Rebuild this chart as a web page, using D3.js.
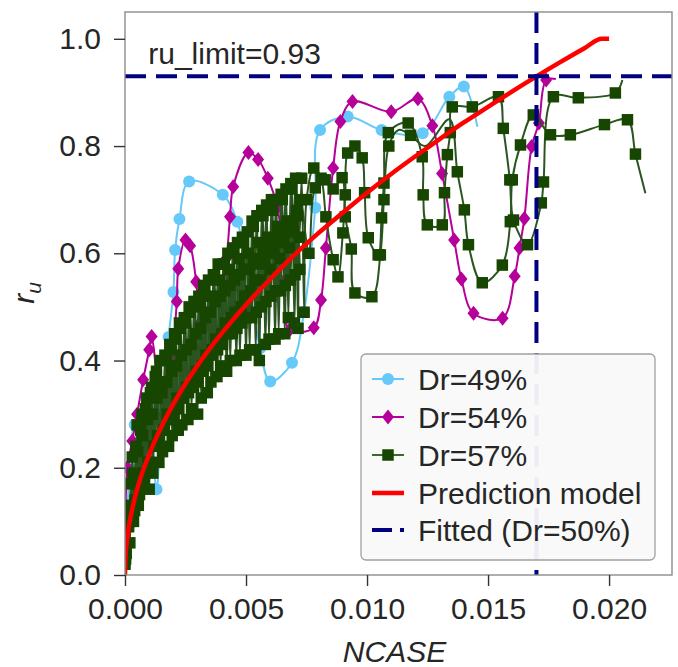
<!DOCTYPE html>
<html>
<head>
<meta charset="utf-8">
<script src="https://cdn.jsdelivr.net/npm/d3@7"></script>
<style>
  body { margin: 0; background: #fff; }
  text { font-family: "Liberation Sans", Arial, sans-serif; fill: #262626; }
</style>
</head>
<body>
<svg id="chart"></svg>
<script>
const WIDTH = 678;
const HEIGHT = 667;
const LEFT = 125, RIGHT = 672, TOP = 12, BOTTOM = 575;
const FONT = 30;

// ticks
const xTicks = [0, 0.005, 0.010, 0.015, 0.020];
const yTicks = [0, 0.2, 0.4, 0.6, 0.8, 1.0];

// limits
const ruLimit = 0.93;
const ncaseFitted = 0.017;

// Dr=49% (NCASE, ru); third field 0 = no marker
const dr49 = [[0,0.02],[0.0002,0.2],[0.0004,0.28],[0.0007,0.25],[0.001,0.3],[0.0013,0.16],[0.0015,0.3],
  [0.0018,0.444],[0.002,0.528],[0.00207,0.606],[0.00225,0.664],[0.00265,0.734],[0.00404,0.709],[0.00464,0.659],
  [0.0052,0.52],[0.00558,0.423],[0.006,0.361],[0.0069,0.396],[0.0074,0.491],[0.00786,0.685],[0.00806,0.83],
  [0.0092,0.855],[0.0106,0.83],[0.0123,0.824],[0.0134,0.892],[0.014,0.911],[0.01456,0.836,0]];

// Dr=54%
const dr54 = [[0,0.02],[0.0001,0.2],[0.0003,0.25],[0.0005,0.3],[0.00075,0.364],[0.001,0.42],[0.0011,0.445],
  [0.0013,0.38],[0.0016,0.3],[0.0019,0.38],[0.00214,0.51],[0.0022,0.571],[0.0025,0.625],[0.00269,0.614],
  [0.00294,0.547],[0.0031,0.47],[0.0034,0.40],[0.0038,0.45],[0.0042,0.591],[0.00434,0.668],[0.00447,0.724],
  [0.0051,0.788],[0.0055,0.775],[0.0059,0.74],[0.0063,0.685],[0.0066,0.55],[0.0068,0.457],[0.0078,0.461],
  [0.0081,0.513],[0.0083,0.61],[0.0086,0.759],[0.0089,0.846],[0.0094,0.883],[0.011,0.864],[0.0121,0.888],
  [0.0127,0.838],[0.0131,0.749],[0.0136,0.625],[0.0139,0.552],[0.0144,0.488],[0.0156,0.479],[0.0161,0.557],
  [0.0163,0.61],[0.0165,0.665],[0.0168,0.799],[0.0171,0.843],[0.0174,0.923],[0.0178,0.925,0]];

// Dr=57%, three interleaved traces
const dr57a = [[0,0.02],[0.0001,0.13],[0.0002,0.06],[0.0003,0.22],[0.0004,0.12],[0.0005,0.28],[0.0006,0.15],[0.0007,0.30],[0.0008,0.18],[0.0009,0.33],
  [0.0010,0.16],[0.0011,0.35],[0.0012,0.24],[0.0013,0.38],[0.0014,0.21],[0.0015,0.36],[0.0016,0.27],[0.0017,0.40],[0.0018,0.24],[0.0019,0.42],
  [0.0020,0.29],[0.0021,0.44],[0.0022,0.27],[0.0023,0.46],[0.0024,0.33],[0.0025,0.47],[0.0026,0.29],[0.0027,0.49],[0.0028,0.36],[0.0029,0.51],
  [0.0030,0.30],[0.0031,0.50],[0.0032,0.39],[0.0033,0.53],[0.0034,0.34],[0.0035,0.52],[0.0036,0.42],[0.0037,0.56],[0.0038,0.37],[0.0039,0.55],
  [0.0040,0.45],[0.0041,0.58],[0.0042,0.38],[0.0043,0.57],[0.0044,0.48],[0.0045,0.60],[0.0046,0.40],[0.0047,0.59],[0.0048,0.50],[0.0049,0.62],
  [0.0050,0.41],[0.0051,0.60],[0.0052,0.53],[0.0053,0.65],[0.0054,0.42],[0.0055,0.62],[0.0056,0.55],[0.0057,0.67],[0.0058,0.43],[0.0059,0.63],
  [0.0060,0.57],[0.0061,0.68],[0.0062,0.44],[0.0063,0.65],[0.0064,0.59],[0.0065,0.70],[0.0066,0.45],[0.0067,0.66],[0.0068,0.61],[0.0069,0.72],
  [0.0070,0.47],[0.0071,0.68],[0.0072,0.63],[0.0073,0.74],[0.0074,0.49],[0.0075,0.70],
  [0.0078,0.759],[0.0081,0.74],[0.0083,0.668],[0.0086,0.588],[0.0088,0.556],[0.0090,0.638],[0.0091,0.709],[0.0092,0.787],
  [0.0095,0.80],[0.0098,0.778],[0.0099,0.713],[0.01005,0.629],[0.01046,0.597],[0.0106,0.666],[0.0107,0.731],[0.01088,0.825],
  [0.0117,0.843],[0.01228,0.78],[0.01232,0.709],[0.01249,0.653],[0.01311,0.653],[0.0132,0.713],[0.01332,0.784],[0.01344,0.825],
  [0.01352,0.873],[0.01435,0.873],[0.01543,0.892],[0.01563,0.833],[0.0159,0.737],[0.01605,0.662],[0.01663,0.616],[0.0172,0.694],
  [0.01729,0.733],[0.0177,0.892],[0.01873,0.89],[0.02026,0.899],[0.02055,0.923,0]];

const dr57b = [[0.00005,0.04],[0.00015,0.09],[0.00025,0.17],[0.00035,0.10],[0.00045,0.24],[0.00055,0.13],[0.00065,0.27],[0.00075,0.19],[0.00085,0.31],[0.00095,0.21],
  [0.00105,0.34],[0.00115,0.19],[0.00125,0.37],[0.00135,0.26],[0.00145,0.40],[0.00155,0.23],[0.00165,0.41],[0.00175,0.30],[0.00185,0.43],[0.00195,0.26],
  [0.00205,0.45],[0.00215,0.33],[0.00225,0.47],[0.00235,0.28],[0.00245,0.48],[0.00255,0.35],[0.00265,0.50],[0.00275,0.31],[0.00285,0.51],[0.00295,0.38],
  [0.00305,0.52],[0.00315,0.33],[0.00325,0.54],[0.00335,0.41],[0.00345,0.55],[0.00355,0.36],[0.00365,0.56],[0.00375,0.44],[0.00385,0.58],[0.00395,0.39],
  [0.00405,0.58],[0.00415,0.47],[0.00425,0.60],[0.00435,0.40],[0.00445,0.61],[0.00455,0.49],[0.00465,0.62],[0.00475,0.41],[0.00485,0.63],[0.00495,0.52],
  [0.00505,0.64],[0.00515,0.42],[0.00525,0.66],[0.00535,0.55],[0.00545,0.67],[0.00555,0.40],[0.00565,0.68],[0.00575,0.58],[0.00585,0.69],[0.00595,0.44],
  [0.00605,0.70],[0.00615,0.60],[0.00625,0.70],[0.00635,0.45],[0.00645,0.71],[0.00655,0.62],[0.00665,0.72],[0.00675,0.48],[0.00685,0.73],[0.00695,0.64],
  [0.00705,0.74],[0.00715,0.46],[0.00725,0.70],
  [0.0076,0.60],[0.00786,0.722],[0.00827,0.737],[0.0086,0.72],[0.00897,0.741],[0.0091,0.668],[0.00935,0.608],[0.0095,0.526],
  [0.0102,0.519],[0.01055,0.597],[0.0107,0.70],[0.0109,0.80],[0.0113,0.83,0],[0.0118,0.82],[0.0124,0.80,0],[0.0134,0.85,0],
  [0.01373,0.752],[0.01402,0.681],[0.01419,0.616],[0.01476,0.545],[0.01559,0.578],[0.01592,0.659],[0.016,0.737],[0.01634,0.802],
  [0.01687,0.858],[0.01758,0.821],[0.0184,0.821],[0.01981,0.84],[0.02076,0.849],[0.02109,0.785],[0.0215,0.712,0]];

const dr57c = [[0.000025,0.03],[0.000125,0.12],[0.000225,0.10],[0.000325,0.19],[0.000425,0.14],[0.000525,0.23],[0.000625,0.17],[0.000725,0.26],[0.000825,0.19],[0.000925,0.29],
  [0.001025,0.21],[0.001125,0.30],[0.001225,0.24],[0.001325,0.33],[0.001425,0.25],[0.001525,0.34],[0.001625,0.27],[0.001725,0.36],[0.001825,0.29],[0.001925,0.38],
  [0.002025,0.30],[0.002125,0.39],[0.002225,0.31],[0.002325,0.41],[0.002425,0.33],[0.002525,0.42],[0.002625,0.34],[0.002725,0.43],[0.002825,0.35],[0.002925,0.45],
  [0.003025,0.36],[0.003125,0.46],[0.003225,0.38],[0.003325,0.48],[0.003425,0.39],[0.003525,0.49],[0.003625,0.41],[0.003725,0.51],[0.003825,0.42],[0.003925,0.52],
  [0.004025,0.43],[0.004125,0.53],[0.004225,0.45],[0.004325,0.54],[0.004425,0.45],[0.004525,0.55],[0.004625,0.46],[0.004725,0.56],[0.004825,0.47],[0.004925,0.57],
  [0.005025,0.48],[0.005125,0.57],[0.005225,0.48],[0.005325,0.58],[0.005425,0.49],[0.005525,0.59],[0.005625,0.50],[0.005725,0.60],[0.005825,0.51],[0.005925,0.61],
  [0.006025,0.52],[0.006125,0.62],[0.006225,0.53],[0.006325,0.63],[0.006425,0.53],[0.006525,0.64],[0.006625,0.54],[0.006725,0.65],[0.006825,0.55],[0.006925,0.66],
  [0.007025,0.56],[0.007125,0.67],[0.007225,0.57]];

// prediction model
const modelN = [0, 0.00002, 0.0001, 0.0003, 0.0006, 0.001, 0.0015, 0.002, 0.003, 0.004, 0.005, 0.006, 0.007, 0.008,
  0.009, 0.010, 0.011, 0.012, 0.013, 0.014, 0.015, 0.016, 0.017, 0.018, 0.019, 0.0197, 0.0200];
const modelR = [0, 0.032, 0.071, 0.123, 0.175, 0.225, 0.276, 0.319, 0.391, 0.451, 0.504, 0.552, 0.597, 0.638,
  0.676, 0.713, 0.748, 0.781, 0.813, 0.844, 0.873, 0.902, 0.93, 0.957, 0.983, 1.0, 1.0];

const labels = ["Dr=49%", "Dr=54%", "Dr=57%", "Prediction model", "Fitted (Dr=50%)"];

const BLUE = "#66c9fa", MAGENTA = "#b5009a", GREEN_LINE = "#2a5520", GREEN_MARK = "#174600",
      RED = "#ff0000", NAVY = "#000080";

let svg = d3.select("#chart").attr("width", WIDTH).attr("height", HEIGHT);

let x = d3.scaleLinear().domain([0, 0.0226]).range([LEFT, RIGHT]);
let y = d3.scaleLinear().domain([0, 1.05]).range([BOTTOM, TOP]);

svg.append("clipPath").attr("id", "clip")
  .append("rect").attr("x", LEFT).attr("y", TOP).attr("width", RIGHT - LEFT).attr("height", BOTTOM - TOP);

let plot = svg.append("g").attr("clip-path", "url(#clip)");

let line = d3.line().x(d => x(d[0])).y(d => y(d[1])).curve(d3.curveCatmullRom.alpha(0.5));

function diamondPath(w, h) {
  return `M0,${-h/2}L${w/2},0L0,${h/2}L${-w/2},0Z`;
}
const circleD = d3.symbol(d3.symbolCircle, Math.PI * 36)();
const squareD = d3.symbol(d3.symbolSquare, 132)();
const diamondD = diamondPath(12, 15);

function drawLines(list, color) {
  list.forEach(data => {
    plot.append("path").datum(data)
      .attr("d", line).attr("fill", "none").attr("stroke", color).attr("stroke-width", 2);
  });
}
function drawMarks(list, color, markD) {
  list.forEach(data => {
    plot.append("g").selectAll("path")
      .data(data.filter(d => d[2] !== 0))
      .join("path")
      .attr("d", markD)
      .attr("transform", d => `translate(${x(d[0])},${y(d[1])})`)
      .attr("fill", color);
  });
}

drawLines([dr49], BLUE);
drawMarks([dr49], BLUE, circleD);
drawLines([dr54], MAGENTA);
drawMarks([dr54], MAGENTA, diamondD);
drawLines([dr57a, dr57b, dr57c], GREEN_LINE);
drawMarks([dr57a, dr57b, dr57c], GREEN_MARK, squareD);

let model = modelN.map((n, i) => [n, modelR[i]]);
plot.append("path").datum(model)
  .attr("d", d3.line().x(d => x(d[0])).y(d => y(d[1])).curve(d3.curveMonotoneX))
  .attr("fill", "none").attr("stroke", RED).attr("stroke-width", 4.5).attr("stroke-linecap", "butt");

// fitted limits
plot.append("line")
  .attr("x1", LEFT).attr("x2", RIGHT).attr("y1", y(ruLimit)).attr("y2", y(ruLimit))
  .attr("stroke", NAVY).attr("stroke-width", 4).attr("stroke-dasharray", "21,10");
plot.append("line")
  .attr("x1", x(ncaseFitted)).attr("x2", x(ncaseFitted)).attr("y1", TOP).attr("y2", BOTTOM)
  .attr("stroke", NAVY).attr("stroke-width", 4).attr("stroke-dasharray", "21,10");

svg.append("text")
  .attr("x", x(0.00096)).attr("y", y(0.953))
  .attr("font-size", FONT)
  .text("ru_limit=" + ruLimit);

// frame
svg.append("rect")
  .attr("x", LEFT).attr("y", TOP).attr("width", RIGHT - LEFT).attr("height", BOTTOM - TOP)
  .attr("fill", "none").attr("stroke", "#8c8c8c").attr("stroke-width", 1.4);

// axes
let xAxis = svg.append("g").attr("transform", `translate(0,${BOTTOM})`)
  .call(d3.axisBottom(x).tickValues(xTicks).tickFormat(d3.format(".3f")).tickSize(11).tickPadding(12));
let yAxis = svg.append("g").attr("transform", `translate(${LEFT},0)`)
  .call(d3.axisLeft(y).tickValues(yTicks).tickFormat(d3.format(".1f")).tickSize(11).tickPadding(13));
[xAxis, yAxis].forEach(g => {
  g.select(".domain").remove();
  g.selectAll(".tick line").attr("stroke", "#333").attr("stroke-width", 1.4);
  g.selectAll(".tick text").attr("font-size", FONT).attr("fill", "#262626")
    .style("font-family", '"Liberation Sans", Arial, sans-serif');
});

// axis labels
svg.append("text")
  .attr("x", (LEFT + RIGHT) / 2 - 4).attr("y", 662)
  .attr("text-anchor", "middle").attr("font-size", FONT).attr("font-style", "italic")
  .text("NCASE");

let yl = svg.append("text")
  .attr("transform", "translate(34,293) rotate(-90)")
  .attr("text-anchor", "middle").attr("font-size", 30).attr("font-style", "italic");
yl.append("tspan").text("r");
yl.append("tspan").attr("font-size", 21).attr("dy", 7).text("u");

// legend
let lg = svg.append("g");
lg.append("rect")
  .attr("x", 361).attr("y", 354).attr("width", 294).attr("height", 206).attr("rx", 5)
  .attr("fill", "#f9f9f9").attr("fill-opacity", 0.95).attr("stroke", "#a0a0a0").attr("stroke-width", 1.3);

const rowY = [379, 417, 455, 493, 530];
const hx0 = 372, hx1 = 404, hcx = 388;

function legendLine(i, color, width, dash) {
  lg.append("line").attr("x1", hx0).attr("x2", hx1).attr("y1", rowY[i]).attr("y2", rowY[i])
    .attr("stroke", color).attr("stroke-width", width).attr("stroke-dasharray", dash || null);
}
legendLine(0, BLUE, 2);
lg.append("path").attr("d", circleD).attr("transform", `translate(${hcx},${rowY[0]})`).attr("fill", BLUE);
legendLine(1, MAGENTA, 2);
lg.append("path").attr("d", diamondD).attr("transform", `translate(${hcx},${rowY[1]})`).attr("fill", MAGENTA);
legendLine(2, "#3d6b2c", 2);
lg.append("path").attr("d", squareD).attr("transform", `translate(${hcx},${rowY[2]})`).attr("fill", GREEN_MARK);
legendLine(3, RED, 4.5);
legendLine(4, NAVY, 4, "20,8");

lg.selectAll("text.lab").data(labels).join("text")
  .attr("class", "lab")
  .attr("x", 418).attr("y", (d, i) => rowY[i])
  .attr("dy", "0.35em").attr("font-size", FONT)
  .text(d => d);
</script>
</body>
</html>
